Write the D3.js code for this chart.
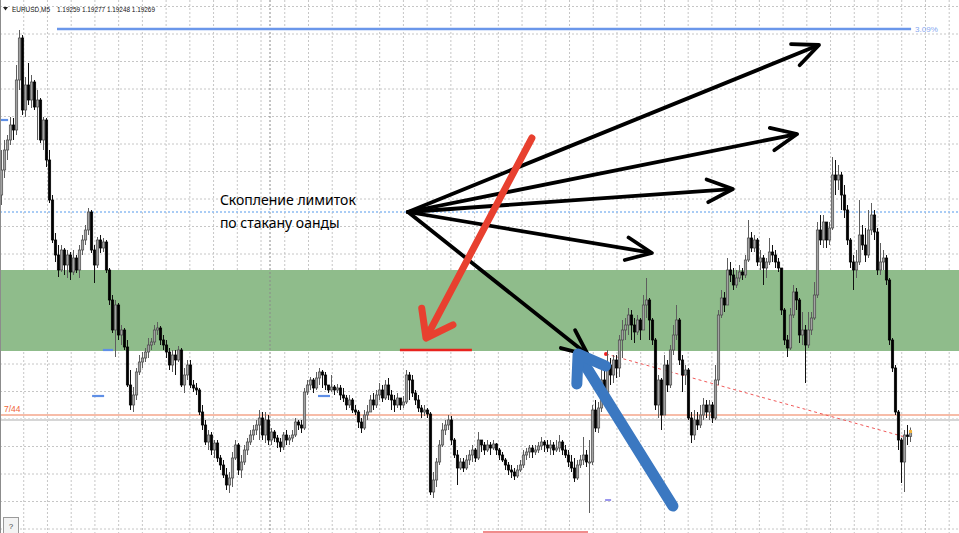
<!DOCTYPE html>
<html>
<head>
<meta charset="utf-8">
<script src="https://cdn.jsdelivr.net/npm/d3@7"></script>
<style>
html, body { margin: 0; padding: 0; background: #fff; overflow: hidden; }
svg { display: block; }
</style>
</head>
<body>
<svg id="chart" width="959" height="533"></svg>
<script>
// EURUSD M5 candles, values in points (0.00001) above the base price
const basePrice = 1.19;
const barOpen = [
742,792,832,852,882,872,972,1056,912,962, 932,968,918,932,852,892,812,732,652,622,
592,632,602,622,588,616,592,632,652,672, 708,632,602,652,636,648,592,532,472,522,
462,472,438,362,322,342,388,408,416,428, 442,448,472,476,452,442,428,402,422,412,
432,362,382,402,362,356,352,308,282,248, 262,232,246,216,202,182,162,176,216,242,
192,208,232,248,262,272,282,296,262,292, 252,268,256,248,238,262,252,256,262,288,
282,276,348,362,372,356,376,388,382,362, 352,358,352,356,342,336,322,332,312,308,
288,276,302,308,332,322,342,352,336,362, 342,332,322,336,322,328,382,372,346,332,
316,308,312,304,148,172,208,242,272,282, 292,252,222,196,208,196,212,222,232,216,
252,242,232,242,236,244,232,222,212,202, 192,188,180,192,202,222,228,236,228,232,
240,248,242,236,242,232,236,248,232,222, 208,196,176,202,212,222,208,208,312,276,
316,372,342,402,382,412,396,452,472,482, 502,482,468,492,472,522,532,492,452,322,
372,302,402,362,432,462,492,412,382,392, 296,262,292,282,302,322,308,322,296,372,
502,536,522,592,582,562,576,588,582,612, 656,636,652,608,616,596,608,628,622,608,
596,512,452,436,502,548,532,462,472,442, 472,496,542,672,652,688,652,676,782,772,
782,742,712,652,608,592,608,662,642,622, 672,702,668,592,608,616,572,452,396,308,
252,208,262,259
];
const barHigh = [
832,852,862,898,896,1002,1072,1062,978,1006, 982,972,952,936,898,896,832,742,666,642,
642,636,632,628,632,622,642,662,682,716, 712,642,658,662,656,652,596,542,532,526,
482,476,452,392,358,396,422,428,436,456, 456,482,488,480,462,452,436,432,432,440,
436,396,412,412,372,366,356,322,292,272, 268,252,252,222,212,196,188,228,252,246,
222,242,256,272,282,292,312,308,308,302, 276,272,262,256,268,272,262,272,296,292,
292,356,372,378,376,388,396,392,388,362, 382,362,364,362,356,342,342,336,322,312,
296,312,322,342,346,352,366,362,372,376, 352,342,346,336,340,392,388,382,352,342,
322,322,316,308,188,216,252,286,292,302, 300,256,232,216,216,222,232,242,236,268,
252,248,252,248,252,246,236,228,216,208, 202,196,202,212,232,236,242,242,242,248,
258,252,252,252,248,252,262,252,242,232, 222,216,212,222,258,232,252,322,332,328,
402,392,432,416,422,422,462,492,496,516, 512,496,502,496,542,576,536,496,456,382,
376,422,412,442,482,522,496,422,402,396, 308,312,308,322,336,332,332,328,402,512,
552,548,616,608,596,592,602,596,622,692, 668,662,656,632,622,616,656,642,632,616,
596,516,462,516,562,556,536,508,482,508, 508,568,688,702,702,682,688,818,812,802,
788,762,722,656,622,632,732,682,676,712, 726,712,676,646,632,622,576,456,402,312,
256,272,282,277
];
const barLow = [
722,776,812,842,852,862,952,902,898,922, 916,912,852,846,832,798,726,646,608,578,
588,582,576,572,582,586,576,622,642,662, 626,566,596,626,628,586,522,466,418,452,
442,432,358,312,308,332,382,396,408,416, 432,442,462,442,432,416,392,388,382,408,
358,346,372,356,348,342,302,272,242,232, 222,216,208,192,176,152,146,158,212,182,
176,202,222,242,252,262,252,252,246,242, 242,248,236,228,232,242,242,248,258,272,
266,272,342,352,346,352,362,356,352,346, 348,342,346,332,328,312,316,306,302,276,
266,272,292,308,312,316,332,328,332,332, 312,308,316,312,316,324,332,338,322,308,
296,300,296,142,136,158,202,238,262,272, 242,216,162,192,188,192,202,208,208,212,
228,222,228,222,232,222,212,208,192,182, 176,172,176,188,196,212,216,216,222,226,
232,228,228,222,222,228,228,222,216,198, 188,168,172,196,202,198,106,202,268,266,
308,328,338,362,366,376,378,416,452,462, 452,446,462,452,472,496,452,442,312,296,
272,302,348,356,422,452,402,348,362,292, 246,252,272,276,292,296,292,286,292,362,
496,508,522,568,552,556,568,572,576,608, 628,628,600,592,562,576,602,608,596,588,
502,442,418,432,496,512,446,442,366,436, 462,492,536,642,636,636,642,672,742,752,
712,696,642,596,552,576,602,632,608,616, 662,652,582,582,592,562,442,388,302,232,
166,148,242,248
];
const barClose = [
792,832,852,882,872,972,1056,912,962,932, 968,918,932,852,892,812,732,652,622,592,
632,602,622,588,616,592,632,652,672,708, 632,602,652,636,648,592,532,472,522,462,
472,438,362,322,342,388,408,416,428,442, 448,472,476,452,442,428,402,422,412,432,
362,382,402,362,356,352,308,282,248,262, 232,246,216,202,182,162,176,216,242,192,
208,232,248,262,272,282,296,262,292,252, 268,256,248,238,262,252,256,262,288,282,
276,348,362,372,356,376,388,382,362,352, 358,352,356,342,336,322,332,312,308,288,
276,302,308,332,322,342,352,336,362,342, 332,322,336,322,328,382,372,346,332,316,
308,312,304,148,172,208,242,272,282,292, 252,222,196,208,196,212,222,232,216,252,
242,232,242,236,244,232,222,212,202,192, 188,180,192,202,222,228,236,228,232,240,
248,242,236,242,232,236,248,232,222,208, 196,176,202,212,222,208,208,312,276,316,
372,342,402,382,412,396,452,472,482,502, 482,468,492,472,522,532,492,452,322,372,
302,402,362,432,462,492,412,382,392,296, 262,292,282,302,322,308,322,296,372,502,
536,522,592,582,562,576,588,582,612,656, 636,652,608,616,596,608,628,622,608,596,
512,452,436,502,548,532,462,472,442,472, 496,542,672,652,688,652,676,782,772,782,
742,712,652,608,592,608,662,642,622,672, 702,668,592,608,616,572,452,396,308,252,
208,262,259,269
];

const symbolTitle = "EURUSD,M5";
const lastQuote = ["1.19259", "1.19277", "1.19248", "1.19269"];

// levels and objects: bar index positions and prices
const zoneBand = [1.19592, 1.19430];
const dottedLevel = 1.19708;
const orangeLevel = 1.19302;
const orangeLabel = "7/44";
const bidLevel = 1.19292;
const topLine = [18.5, 303.2, 1.20074];
const topLineLabel = "3.09%";
const blueMarks = [[-0.5, 2.2, 1.19892], [33.8, 37.2, 1.19432], [30.2, 34.2, 1.19340], [105.5, 109.5, 1.19340]];
const violetMarks = [[201.2, 203.2, 1.19132]];
const redMarks = [[132.8, 156.8, 1.19432]];
const pinkMarks = [[160.5, 195.5, 1.19068]];
const redTrend = [[201.5, 1.19424], [301.2, 1.19258]];
const daySeparator = 89.5;

// hand-drawn annotation
const noteLines = ["Скопление лимиток", "по стакану оанды"];
const noteAnchor = [72.8, 1.19722];
const fanFrom = [135.5, 1.19708];
const fanTo = [[272.5, 1.20042], [265.2, 1.19864], [243.8, 1.19754], [216.8, 1.19626], [195.5, 1.19422]];
const redArrow = [[176.8, 1.19856], [141.5, 1.19456]];
const blueArrow = [[223.8, 1.19120], [192.2, 1.19424]];

const W = 959, H = 533;
const svg = d3.select("#chart");
const n = barClose.length;
const price = p => basePrice + p / 100000;

const x = d3.scaleLinear().domain([0, n - 1]).range([1.5, 910.5]);
const y = d3.scaleLinear().domain([1.19066, 1.20132]).range([H, 0]);

// background grid
const grid = svg.append("g");
const gridStepX = 23.73;
for (let gx = gridStepX; gx < W; gx += gridStepX) {
    grid.append("line").attr("x1", gx).attr("x2", gx).attr("y1", 0).attr("y2", H)
        .attr("stroke", "#c6c6c6").attr("stroke-dasharray", "2,2");
}
const gridPrices = d3.range(20).map(k => 1.20119 - 0.00055 * k);
grid.selectAll(".hg").data(gridPrices).enter().append("line")
    .attr("x1", 0).attr("x2", W)
    .attr("y1", d => y(d)).attr("y2", d => y(d))
    .attr("stroke", "#c6c6c6").attr("stroke-dasharray", "2,2");

// green zone
svg.append("rect")
    .attr("x", 0).attr("width", W)
    .attr("y", y(zoneBand[0])).attr("height", y(zoneBand[1]) - y(zoneBand[0]))
    .attr("fill", "#8fbc8b");

// period separator
svg.append("line")
    .attr("x1", x(daySeparator)).attr("x2", x(daySeparator)).attr("y1", 0).attr("y2", H)
    .attr("stroke", "#8a8a8a").attr("stroke-dasharray", "2,2");

// horizontal levels
function hLevel(p, color, width, dash) {
    svg.append("line").attr("x1", 0).attr("x2", W)
        .attr("y1", y(p)).attr("y2", y(p))
        .attr("stroke", color).attr("stroke-width", width)
        .attr("stroke-dasharray", dash || null);
}
hLevel(dottedLevel, "#8dbcf2", 1.5, "2,2");
hLevel(bidLevel, "#d6d6d6", 2);
hLevel(orangeLevel, "#f07a52", 1.2);

svg.append("text").attr("x", 4).attr("y", y(orangeLevel) - 3.5)
    .attr("font-family", "Liberation Sans, Arial").attr("font-size", 8.5)
    .attr("fill", "#f0653a").text(orangeLabel);

// short object segments
function segs(list, color, width) {
    svg.append("g").selectAll("line").data(list).enter().append("line")
        .attr("x1", d => x(d[0])).attr("x2", d => x(d[1]))
        .attr("y1", d => y(d[2])).attr("y2", d => y(d[2]))
        .attr("stroke", color).attr("stroke-width", width);
}
segs([topLine], "#6b97ea", 2.5);
segs(blueMarks, "#5f8fe6", 2.2);
segs(violetMarks, "#9a96ee", 2);
segs(redMarks, "#e8231e", 2.6);
segs(pinkMarks, "#f08c8c", 2);

svg.append("text").attr("x", x(topLine[1]) + 4).attr("y", y(topLine[2]) + 3)
    .attr("font-family", "Liberation Sans, Arial").attr("font-size", 8)
    .attr("fill", "#86a8f0").text(topLineLabel);

// red dotted trend line
svg.append("line")
    .attr("x1", x(redTrend[0][0])).attr("y1", y(redTrend[0][1]))
    .attr("x2", x(redTrend[1][0])).attr("y2", y(redTrend[1][1]))
    .attr("stroke", "#f05a5a").attr("stroke-dasharray", "3,3");
svg.append("circle").attr("cx", x(redTrend[0][0])).attr("cy", y(redTrend[0][1]))
    .attr("r", 2).attr("fill", "#f02020");

// candles
const bars = d3.range(n).map(i => ({
    i: i, o: price(barOpen[i]), h: price(barHigh[i]), l: price(barLow[i]), c: price(barClose[i])
}));
const cg = svg.append("g");
cg.selectAll(".wick").data(bars).enter().append("line")
    .attr("x1", d => x(d.i)).attr("x2", d => x(d.i))
    .attr("y1", d => y(Math.max(d.h, d.o, d.c)))
    .attr("y2", d => y(Math.min(d.l, d.o, d.c)))
    .attr("stroke", d => d.c >= d.o ? "#5e5e5e" : "#111");
cg.selectAll(".body").data(bars).enter().append("rect")
    .attr("x", d => x(d.i) - 1.2).attr("width", 2.4)
    .attr("y", d => y(Math.max(d.o, d.c)))
    .attr("height", d => Math.max(1, Math.abs(y(d.o) - y(d.c))))
    .attr("fill", d => d.c >= d.o ? "#a2a2a2" : "#000")
    .attr("stroke", d => d.c >= d.o ? "#4a4a4a" : "#000")
    .attr("stroke-width", 0.7);

svg.append("rect").attr("x", x(n - 1) - 1.5).attr("y", y(price(barClose[n - 1])) - 1.5)
    .attr("width", 3).attr("height", 3).attr("fill", "#f2b43c");

// annotation arrows
function arrow(a, b, color, width, len, spread) {
    const x0 = x(a[0]), y0 = y(a[1]), x1 = x(b[0]), y1 = y(b[1]);
    const ang = Math.atan2(y0 - y1, x0 - x1);
    const back = width * 0.4;
    svg.append("line")
        .attr("x1", x0).attr("y1", y0)
        .attr("x2", x1 + back * Math.cos(ang)).attr("y2", y1 + back * Math.sin(ang))
        .attr("stroke", color).attr("stroke-width", width).attr("stroke-linecap", "round");
    const arm = t => [x1 + len * Math.cos(ang + t), y1 + len * Math.sin(ang + t)];
    const p1 = arm(spread), p2 = arm(-spread);
    svg.append("path")
        .attr("d", "M" + p1 + "L" + x1 + "," + y1 + "L" + p2)
        .attr("fill", "none").attr("stroke", color).attr("stroke-width", width)
        .attr("stroke-linecap", "round").attr("stroke-linejoin", "round");
}
fanTo.forEach(t => arrow(fanFrom, t, "#000", 3.8, 28, 0.42));
arrow(redArrow[0], redArrow[1], "#e8402f", 7, 30, 0.63);
arrow(blueArrow[0], blueArrow[1], "#3b78c1", 11, 30, 0.6);

// note text
const note = svg.append("text")
    .attr("font-family", "Noto Sans, Open Sans, sans-serif").attr("font-size", 14)
    .attr("fill", "#000");
noteLines.forEach((t, k) => {
    note.append("tspan").attr("x", x(noteAnchor[0])).attr("y", y(noteAnchor[1]) + k * 23).text(t);
});

// header
svg.append("path").attr("d", "M3,7L8,7L5.5,10.5Z").attr("fill", "#222");
svg.append("text").attr("x", 12).attr("y", 12)
    .attr("font-family", "Liberation Sans, Arial").attr("font-size", 8).attr("fill", "#111")
    .attr("textLength", 38).attr("lengthAdjust", "spacingAndGlyphs")
    .text(symbolTitle);
svg.append("text").attr("x", 57).attr("y", 12)
    .attr("font-family", "Liberation Sans, Arial").attr("font-size", 8).attr("fill", "#111")
    .attr("textLength", 98).attr("lengthAdjust", "spacingAndGlyphs")
    .text(lastQuote.join(" "));

// window border and help button
svg.append("line").attr("x1", 0.5).attr("x2", 0.5).attr("y1", 0).attr("y2", H)
    .attr("stroke", "#8c8c8c");
svg.append("rect").attr("x", 3.5).attr("y", 517.5).attr("width", 15).attr("height", 16)
    .attr("fill", "#f3f3f3").attr("stroke", "#9a9a9a");
svg.append("text").attr("x", 11).attr("y", 529).attr("text-anchor", "middle")
    .attr("font-family", "Liberation Sans, Arial").attr("font-size", 8).attr("fill", "#444")
    .text("?");
</script>
</body>
</html>
